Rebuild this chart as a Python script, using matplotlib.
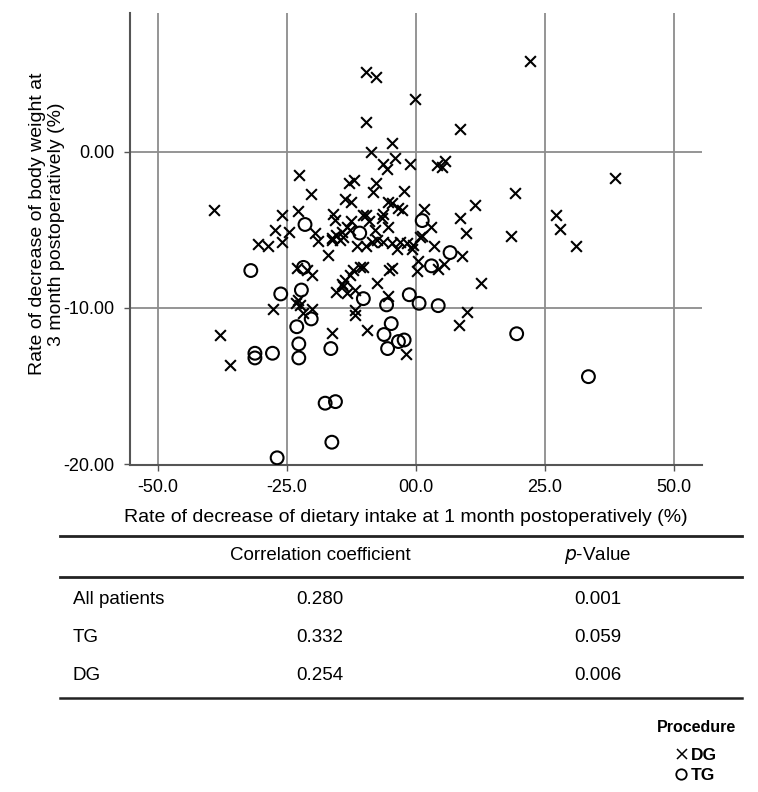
import matplotlib
matplotlib.use("Agg")
from matplotlib import pyplot as plt
from matplotlib.lines import Line2D

plt.rcParams["font.family"] = ["Liberation Sans", "DejaVu Sans"]

# TG patients (circles): dietary intake decrease (%), body weight decrease (%)
tg_x = [-32.0, -26.2, -31.2, -31.2, -27.8, -23.1, -22.7, -22.7, -22.2, -20.3,
        -16.5, -17.6, -15.6, -16.3, -26.9, -4.8, -6.2, -5.5, -3.4, -2.3,
        -10.2, -5.7, -1.3, 0.6, 4.3, 19.5, 33.4, 3.0, 6.6, 1.2,
        -10.9, -21.5, -21.8]
tg_y = [-7.6, -9.1, -12.9, -13.2, -12.9, -11.2, -12.3, -13.2, -8.85, -10.7,
        -12.6, -16.1, -16.0, -18.6, -19.6, -11.0, -11.7, -12.6, -12.15, -12.05,
        -9.4, -9.8, -9.15, -9.7, -9.85, -11.65, -14.4, -7.3, -6.45, -4.4,
        -5.2, -4.65, -7.4]

# DG patients (crosses)
dg_x = [22.1, -9.6, -7.8, -0.1, -9.6, 8.5, -4.7, -8.8, -4.1, -6.3,
        -5.7, -1.1, 4.1, 5.0, 5.6, 38.6, -22.7, -20.3, -13.0, -12.1,
        -7.8, -8.3, -2.4, 19.2, -13.8, -12.5, -39.1, -26.0, -22.8, -16.0,
        -15.7, -9.6, -6.3, -6.6, -5.4, -4.7, -3.4, -2.8, 1.5, 11.4,
        8.5, 2.9, 27.1, 27.9, 9.6, 18.4, 1.1, 30.9, 8.9, 5.4,
        4.3, 12.6, 9.8, 8.3, -1.9, 0.45, 0.1, -0.5, -0.8, -1.8,
        3.4, -12.5, -13.4, -14.4, -15.4, -10.2, -9.2, -7.9, -5.4, -27.3,
        -24.6, -30.6, -28.6, -26.0, -19.6, -18.9, -16.3, -14.7, -14.1, -17.1,
        -11.5, -9.6, -8.6, -7.6, -6.3, -4.7, -3.7, -3.1, -10.2, -5.2,
        -4.7, -15.4, -14.4, -13.8, -14.1, -13.4, -12.8, -12.2, -10.9, -11.8,
        -7.6, -5.4, -23.1, -21.2, -20.2, -22.8, -23.2, -22.5, -21.8, -20.2,
        -27.7, -16.3, -11.8, -11.8, -9.4, -38.0, -36.0, -12.8, -16.3, 0.8]
dg_y = [5.8, 5.15, 4.8, 3.4, 1.9, 1.45, 0.55, 0.0, -0.4, -0.8,
        -1.1, -0.8, -0.85, -0.95, -0.6, -1.7, -1.5, -2.7, -2.0, -1.8,
        -2.0, -2.6, -2.5, -2.65, -3.0, -3.2, -3.7, -4.05, -3.8, -3.95,
        -4.35, -4.05, -3.95, -4.25, -3.2, -3.3, -3.6, -3.7, -3.65, -3.4,
        -4.25, -4.8, -4.05, -4.95, -5.2, -5.4, -5.4, -6.05, -6.65, -7.2,
        -7.5, -8.4, -10.25, -11.1, -12.95, -7.0, -7.6, -5.95, -6.25, -5.85,
        -6.0, -4.45, -4.8, -5.1, -5.3, -4.05, -4.45, -5.0, -4.8, -5.0,
        -5.1, -5.9, -6.05, -5.8, -5.2, -5.7, -5.5, -5.65, -5.45, -6.6,
        -6.0, -6.0, -5.75, -5.65, -5.75, -5.85, -6.25, -5.75, -7.35, -7.55,
        -7.45, -8.95, -8.45, -8.2, -8.6, -9.05, -7.9, -7.55, -7.35, -8.85,
        -8.4, -9.25, -7.45, -7.55, -7.9, -9.5, -9.65, -9.8, -10.3, -10.05,
        -10.05, -11.6, -10.1, -10.45, -11.4, -11.7, -13.65, -5.0, -5.64, -5.43]

x_ticks = [-50, -25, 0, 25, 50]
x_tick_labels = ["-50.0", "-25.0", "00.0", "25.0", "50.0"]
y_ticks = [0, -10, -20]
y_tick_labels = ["0.00", "-10.00", "-20.00"]

row_labels = ["All patients", "TG", "DG"]
corr_values = ["0.280", "0.332", "0.254"]
p_values = ["0.001", "0.059", "0.006"]

W, H = 758, 792
fig = plt.figure(figsize=(W / 100, H / 100), dpi=100)
ax = fig.add_axes([130 / W, 1 - 465 / H, 572 / W, 452 / H])

grid_color = "#8c8c8c"
for xv in x_ticks:
    ax.axvline(xv, color=grid_color, lw=1.3, zorder=0)
for yv in y_ticks[:-1]:
    ax.axhline(yv, color=grid_color, lw=1.3, zorder=0)

ax.scatter(dg_x, dg_y, marker="x", s=60, c="black", linewidths=1.5, zorder=3)
ax.scatter(tg_x, tg_y, marker="o", s=85, facecolors="none",
           edgecolors="black", linewidths=1.5, zorder=3)

ax.set_xlim(-55.4, 55.4)
ax.set_ylim(-20.06, 8.9)
ax.set_xticks(x_ticks)
ax.set_xticklabels(x_tick_labels)
ax.set_yticks(y_ticks)
ax.set_yticklabels(y_tick_labels)
ax.tick_params(axis="both", labelsize=13, length=4, width=1, color="#555555", pad=6)
ax.tick_params(axis="y", pad=7)
for side in ["top", "right"]:
    ax.spines[side].set_visible(False)
for side in ["left", "bottom"]:
    ax.spines[side].set_color("#555555")
    ax.spines[side].set_linewidth(1.5)

fig.text(406 / W, 1 - 517 / H,
         "Rate of decrease of dietary intake at 1 month postoperatively (%)",
         ha="center", va="center", fontsize=14)
fig.text(47 / W, 1 - 224 / H,
         "Rate of decrease of body weight at\n3 month postoperatively (%)",
         ha="center", va="center", rotation=90, fontsize=14, linespacing=1.1)

# table
for y_px, lw in [(536, 2.0), (577, 2.0), (698, 1.8)]:
    fig.add_artist(Line2D([60 / W, 742 / W], [1 - y_px / H, 1 - y_px / H],
                          color="#222222", lw=lw))

col_corr, col_p = 320 / W, 598 / W
fig.text(col_corr, 1 - 556 / H, "Correlation coefficient", ha="center", va="center", fontsize=13.5)
fig.text(col_p, 1 - 556 / H, "$\\it{p}$-Value", ha="center", va="center", fontsize=13.5)
for i, (lab, cv, pv) in enumerate(zip(row_labels, corr_values, p_values)):
    yy = 1 - (599 + i * 38.5) / H
    fig.text(73 / W, yy, lab, ha="left", va="center", fontsize=13.5)
    fig.text(col_corr, yy, cv, ha="center", va="center", fontsize=13.5)
    fig.text(col_p, yy, pv, ha="center", va="center", fontsize=13.5)

# legend
fig.text(697 / W, 1 - 727 / H, "Procedure", ha="center", va="center",
         fontsize=11.5, fontweight="bold")
fig.add_artist(Line2D([682 / W], [1 - 754 / H], marker="x", color="black",
                      markersize=7, markeredgewidth=1.1, linestyle="none"))
fig.text(691 / W, 1 - 755 / H, "DG", ha="left", va="center", fontsize=12.5, fontweight="bold")
fig.add_artist(Line2D([681 / W], [1 - 774 / H], marker="o", color="black",
                      markerfacecolor="none", markersize=7.5, markeredgewidth=1.3,
                      linestyle="none"))
fig.text(691 / W, 1 - 775 / H, "TG", ha="left", va="center", fontsize=12.5, fontweight="bold")

plt.savefig("out.png", dpi=100)
plt.close()
